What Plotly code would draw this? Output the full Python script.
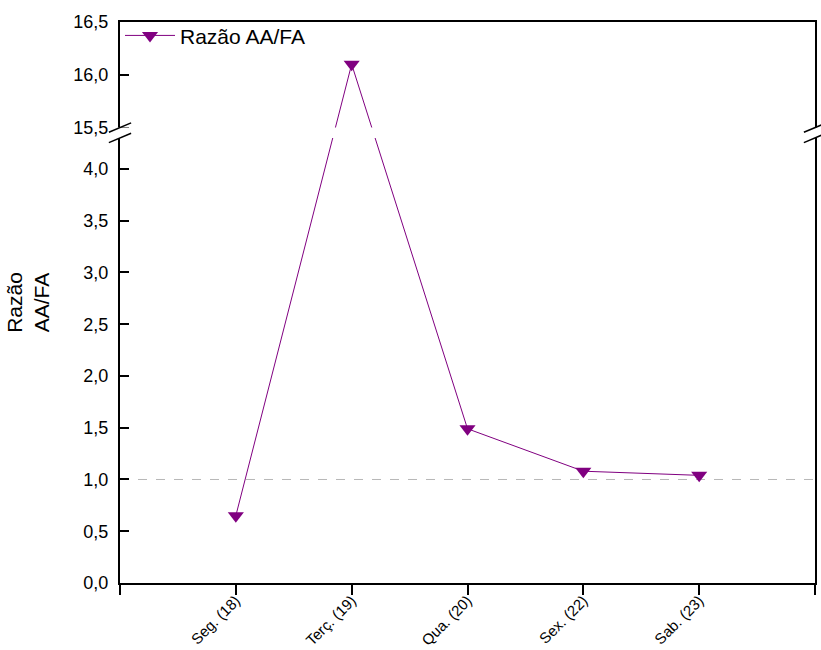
import plotly.graph_objects as go

# ---- data ----
categories = ["Seg. (18)", "Terç. (19)", "Qua. (20)", "Sex. (22)", "Sab. (23)"]
razao_aa_fa = [0.65, 16.1, 1.49, 1.08, 1.04]
reference_level = 1.0

# broken y-axis settings
low_max = 4.3        # top of lower segment
high_min = 15.5      # bottom of upper segment
high_max = 16.5      # top of upper segment
gap = 0.1            # size of the break (in lower-axis units)
high_scale = 1.02    # upper segment scale relative to lower

y_ticks_low = [0, 0.5, 1.0, 1.5, 2.0, 2.5, 3.0, 3.5, 4.0]
y_ticks_high = [15.5, 16.0, 16.5]
y_tick_text = ["0,0", "0,5", "1,0", "1,5", "2,0", "2,5", "3,0", "3,5", "4,0",
               "15,5", "16,0", "16,5"]


def brk(v):
    """Map a real value onto the broken (virtual) axis."""
    if v <= low_max:
        return v
    return low_max + gap + (v - high_min) * high_scale


x_pos = list(range(1, len(categories) + 1))
y_virtual = [brk(v) for v in razao_aa_fa]
top_v = brk(high_max)

FONT = "Liberation Sans, Arial, sans-serif"
PURPLE = "#800080"

fig = go.Figure()
fig.add_trace(go.Scatter(
    x=x_pos, y=y_virtual, mode="lines+markers", name="Razão AA/FA",
    line=dict(color=PURPLE, width=1),
    marker=dict(symbol="triangle-down", size=14, color=PURPLE),
    customdata=razao_aa_fa,
    hovertemplate="%{customdata}<extra></extra>",
))

shapes = []
# reference dashed line
shapes.append(dict(type="line", xref="x", yref="y", x0=0, x1=len(categories) + 1,
                   y0=reference_level, y1=reference_level,
                   line=dict(color="#b8b8b8", width=1, dash="dash"), layer="below"))
# white band hiding the break region
shapes.append(dict(type="rect", xref="paper", yref="y", x0=-0.016, x1=1.02,
                   y0=low_max, y1=low_max + gap, fillcolor="white",
                   line=dict(width=0), layer="above"))
# break slashes on left and right axes
for xc in (0, 1):
    for yc in (low_max, low_max + gap):
        shapes.append(dict(type="line", xref="paper", yref="y",
                           x0=xc - 0.016, x1=xc + 0.016,
                           y0=yc - 0.045, y1=yc + 0.045,
                           line=dict(color="black", width=1.5), layer="above"))

fig.update_layout(
    width=821, height=650,
    margin=dict(l=120, r=6, t=22, b=67),
    paper_bgcolor="white", plot_bgcolor="white",
    font=dict(family=FONT, color="black"),
    showlegend=True,
    legend=dict(x=0, y=1.012, xanchor="left", yanchor="top",
                bgcolor="rgba(0,0,0,0)", font=dict(size=21, family=FONT),
                itemwidth=50, tracegroupgap=0),
    shapes=shapes,
    xaxis=dict(
        range=[0, len(categories) + 1],
        tickmode="array",
        tickvals=[0] + x_pos + [len(categories) + 1],
        ticktext=[""] + categories + [""],
        tickangle=-45,
        tickfont=dict(size=15, family=FONT),
        ticks="outside", ticklen=10, tickwidth=2, tickcolor="black",
        ticklabelstandoff=-9,
        showline=True, linecolor="black", linewidth=2, mirror=True,
        showgrid=False, zeroline=False, automargin=False,
    ),
    yaxis=dict(
        range=[0, top_v],
        tickmode="array",
        tickvals=y_ticks_low + [brk(v) for v in y_ticks_high],
        ticktext=y_tick_text,
        tickfont=dict(size=18, family=FONT),
        ticks="inside", ticklen=9, tickwidth=2, tickcolor="black",
        ticklabelstandoff=6,
        showline=True, linecolor="black", linewidth=2, mirror=True,
        showgrid=False, zeroline=False, automargin=False,
        title=dict(text="Razão<br>AA/FA", font=dict(size=21, family=FONT), standoff=18),
    ),
)

fig.write_html("out.html")
